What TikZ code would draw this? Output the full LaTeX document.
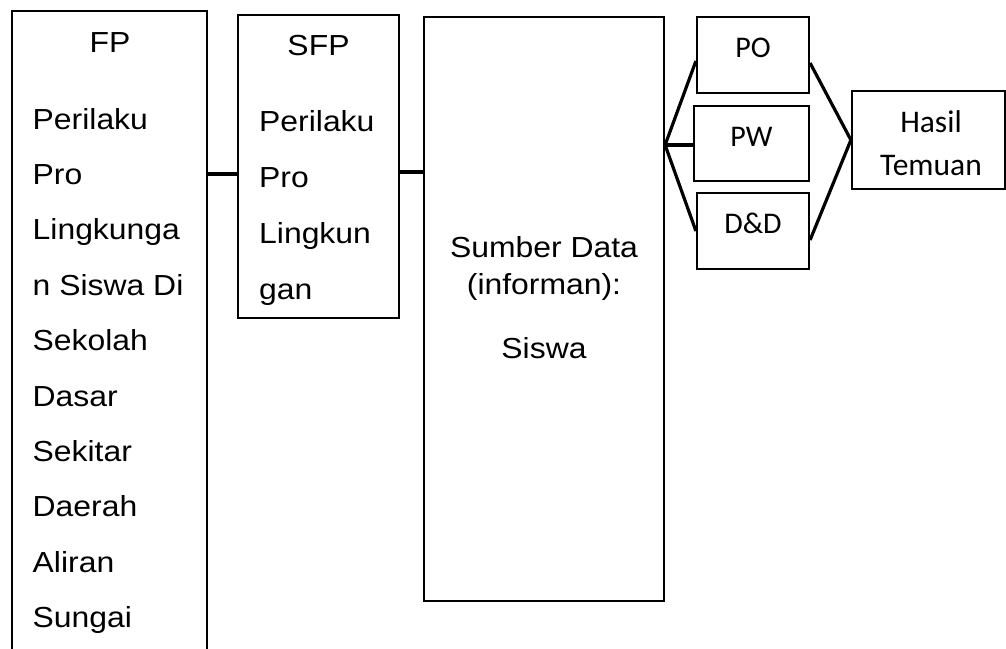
\documentclass[tikz,border=0pt]{standalone}
\usepackage{fontspec}
\setmainfont[FakeStretch=1.1]{Liberation Sans}
\newfontfamily\calibri{Carlito}

\tikzset{
  box/.style={draw, line width=2.2pt, inner sep=0pt},
  link/.style={line width=3.2pt},
  txt/.style={inner sep=0pt, font=\fontsize{29}{29}\selectfont},
  tag/.style={inner sep=0pt, font=\calibri\fontsize{30}{30}\selectfont},
  bigtag/.style={tag, font=\calibri\fontsize{31.5}{31.5}\selectfont},
}

\begin{document}
\begin{tikzpicture}[x=1pt, y=-1pt]
  \useasboundingbox (0,0) rectangle (1006,648);
  \clip (0,0) rectangle (1006,648);

  % boxes (the first one runs past the bottom edge)
  \node[box, minimum width=195pt, minimum height=689pt] (fp) at (109.5,355.5) {};
  \node[box, minimum width=161pt, minimum height=303pt] (sfp) at (318.5,166.5) {};
  \node[box, minimum width=240pt, minimum height=584pt] (sumber) at (544,309) {};
  \node[box, minimum width=112pt, minimum height=76pt] (po) at (753,55) {};
  \node[box, minimum width=115pt, minimum height=75pt] (pw) at (751.5,143.5) {};
  \node[box, minimum width=112pt, minimum height=76pt] (dd) at (753,231) {};
  \node[box, minimum width=153pt, minimum height=98pt] (hasil) at (928.5,140) {};

  % texts
  \node[txt, anchor=base] (fp-title) at (110,52) {FP};
  \foreach \w [count=\i from 0] in {Perilaku, Pro, Lingkunga, n Siswa Di, Sekolah, Dasar, Sekitar, Daerah, Aliran, Sungai}
    \node[txt, anchor=base west] (fp-l\i) at (32.5,129+55.4*\i) {\w};

  \node[txt, anchor=base] (sfp-title) at (318.5,55) {SFP};
  \foreach \w [count=\i from 0] in {Perilaku, Pro, Lingkun, gan}
    \node[txt, anchor=base west] (sfp-l\i) at (259,131+56*\i) {\w};

  \node[txt, anchor=base] (sumber-l0) at (544,257) {Sumber Data};
  \node[txt, anchor=base] (sumber-l1) at (544,294) {(informan):};
  \node[txt, anchor=base] (sumber-l2) at (544,358) {Siswa};

  \node[tag, anchor=base] (po-t) at (753,57) {PO};
  \node[tag, anchor=base] (pw-t) at (751.5,146) {PW};
  \node[tag, anchor=base] (dd-t) at (753,233) {D\&D};
  \node[bigtag, anchor=base] (hasil-t0) at (931,132) {Hasil};
  \node[bigtag, anchor=base] (hasil-t1) at (931,175) {Temuan};

  % connectors
  \coordinate (hub) at (sumber.east |- 0,145);
  \draw[link] (fp.east |- 0,174) -- (sfp.west |- 0,174);
  \draw[link] (sfp.east |- 0,172) -- (sumber.west |- 0,172);
  \draw[link] (hub) -- (po.west |- 0,61);
  \draw[link] (hub) -- (pw.west |- hub);
  \draw[link] (hub) -- (dd.west);
  \draw[link] (po.east |- 0,63) -- (hasil.west);
  \draw[link] (dd.east |- 0,240) -- (hasil.west);
\end{tikzpicture}
\end{document}
